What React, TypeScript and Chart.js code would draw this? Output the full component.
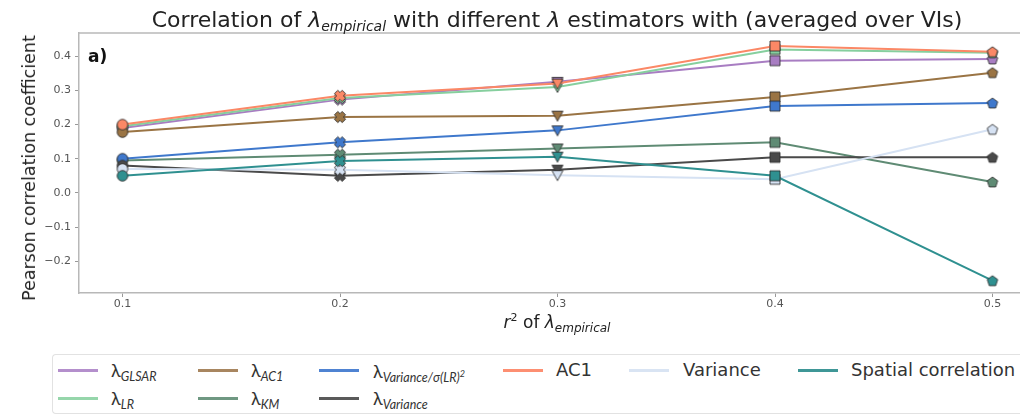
import React, { useEffect, useRef } from "react";
import { Chart, registerables } from "chart.js";

Chart.register(...registerables);

const xValues = [0.1, 0.2, 0.3, 0.4, 0.5];
const yTicks = [-0.2, -0.1, 0.0, 0.1, 0.2, 0.3, 0.4];

const lamGLSAR = [0.19, 0.273, 0.325, 0.387, 0.392];
const lamLR = [0.195, 0.278, 0.31, 0.42, 0.41];
const lamAC1 = [0.178, 0.222, 0.226, 0.281, 0.352];
const lamKM = [0.095, 0.112, 0.13, 0.148, 0.032];
const lamVarSigma = [0.1, 0.148, 0.183, 0.254, 0.263];
const lamVariance = [0.08, 0.05, 0.068, 0.104, 0.104];
const ac1 = [0.2, 0.284, 0.32, 0.43, 0.413];
const variance = [0.07, 0.068, 0.052, 0.04, 0.186];
const spatial = [0.05, 0.093, 0.106, 0.05, -0.257];

const markerShapes = ["circle", "x", "tridown", "square", "pentagon"];

// plotting order (later drawn on top)
const series = [
  { key: "glsar", values: lamGLSAR, color: "#a87dc2" },
  { key: "lr", values: lamLR, color: "#86cf9e" },
  { key: "ac1l", values: lamAC1, color: "#9a7444" },
  { key: "km", values: lamKM, color: "#5f8b74" },
  { key: "varsig", values: lamVarSigma, color: "#3f78cc" },
  { key: "varl", values: lamVariance, color: "#4a4a4a" },
  { key: "ac1", values: ac1, color: "#fb8866" },
  { key: "variance", values: variance, color: "#d6e2f3" },
  { key: "spatial", values: spatial, color: "#2f9090" },
];

function makeMarker(shape: string, fill: string): HTMLCanvasElement {
  const c = document.createElement("canvas");
  const S = 14;
  c.width = S;
  c.height = S;
  const ctx = c.getContext("2d")!;
  const cx = S / 2;
  const cy = S / 2;
  ctx.fillStyle = fill;
  ctx.strokeStyle = "rgba(45,45,45,0.85)";
  ctx.lineWidth = 1;
  ctx.beginPath();
  if (shape === "circle") {
    ctx.arc(cx, cy, 5.3, 0, Math.PI * 2);
  } else if (shape === "square") {
    ctx.rect(cx - 5, cy - 5, 10, 10);
  } else if (shape === "tridown") {
    ctx.moveTo(cx - 5.5, cy - 4.5);
    ctx.lineTo(cx + 5.5, cy - 4.5);
    ctx.lineTo(cx, cy + 5.5);
    ctx.closePath();
  } else if (shape === "pentagon") {
    for (let k = 0; k < 5; k++) {
      const a = -Math.PI / 2 + (k * 2 * Math.PI) / 5;
      const px = cx + 5.5 * Math.cos(a);
      const py = cy + 0.5 + 5.5 * Math.sin(a);
      if (k === 0) ctx.moveTo(px, py);
      else ctx.lineTo(px, py);
    }
    ctx.closePath();
  } else if (shape === "x") {
    const w = 2.4;
    const L = 5.5;
    const pts: [number, number][] = [
      [-w, -L], [w, -L], [w, -w], [L, -w], [L, w], [w, w],
      [w, L], [-w, L], [-w, w], [-L, w], [-L, -w], [-w, -w],
    ];
    const ca = Math.cos(Math.PI / 4);
    const sa = Math.sin(Math.PI / 4);
    pts.forEach(([px, py], k) => {
      const rx = cx + px * ca - py * sa;
      const ry = cy + px * sa + py * ca;
      if (k === 0) ctx.moveTo(rx, ry);
      else ctx.lineTo(rx, ry);
    });
    ctx.closePath();
  }
  ctx.fill();
  ctx.stroke();
  return c;
}

const topSpine = {
  id: "topSpine",
  afterDraw(chart: any) {
    const { ctx, chartArea } = chart;
    ctx.save();
    ctx.strokeStyle = "#b8b8b8";
    ctx.lineWidth = 1.5;
    ctx.beginPath();
    ctx.moveTo(chartArea.left, chartArea.top);
    ctx.lineTo(chart.width, chartArea.top);
    ctx.stroke();
    ctx.restore();
  },
};

const fmt = (v: number) => {
  const s = (Math.round(v * 10) / 10).toFixed(1);
  return s.startsWith("-") ? "\u2212" + s.slice(1) : s;
};

const Lam = ({ sub, size = 18, subSize = 12.5 }: { sub: React.ReactNode; size?: number; subSize?: number }) => (
  <span style={{ fontFamily: "Lato, 'Open Sans', sans-serif", fontSize: size, color: "#333" }}>
    λ
    <span style={{ fontStyle: "italic", fontSize: subSize, position: "relative", top: 4 }}>{sub}</span>
  </span>
);

type LegendItem = { lineX: number; textX: number; row: number; color: string; label: React.ReactNode };

const legendItems: LegendItem[] = [
  { lineX: 5, textX: 58, row: 0, color: "#b48fcc", label: <Lam sub="GLSAR" /> },
  { lineX: 5, textX: 58, row: 1, color: "#96d6ab", label: <Lam sub="LR" /> },
  { lineX: 145, textX: 198, row: 0, color: "#a88660", label: <Lam sub="AC1" /> },
  { lineX: 145, textX: 198, row: 1, color: "#6f9882", label: <Lam sub="KM" /> },
  {
    lineX: 266, textX: 320, row: 0, color: "#4f83d2",
    label: <Lam sub={<>Variance/σ(LR)<sup style={{ fontSize: 9 }}>2</sup></>} />,
  },
  { lineX: 266, textX: 320, row: 1, color: "#5a5a5a", label: <Lam sub="Variance" /> },
  { lineX: 450, textX: 503, row: 0, color: "#fd8f72", label: <span>AC1</span> },
  { lineX: 576, textX: 630, row: 0, color: "#d9e4f3", label: <span>Variance</span> },
  { lineX: 745, textX: 798, row: 0, color: "#3f9797", label: <span>Spatial correlation</span> },
];

export default function App() {
  const ref = useRef<HTMLCanvasElement>(null);

  useEffect(() => {
    const N = series.length;
    const chart = new Chart(ref.current!, {
      type: "line",
      data: {
        datasets: series.map((s, i) => ({
          label: s.key,
          data: xValues.map((x, j) => ({ x, y: s.values[j] })),
          borderColor: s.color,
          backgroundColor: s.color,
          borderWidth: 2,
          pointStyle: markerShapes.map((m) => makeMarker(m, s.color)) as any,
          pointRadius: 6,
          pointHoverRadius: 6,
          tension: 0,
          order: N - i,
        })),
      },
      options: {
        responsive: false,
        animation: false,
        events: [],
        layout: { padding: { top: 33, right: 24, left: 0, bottom: 0 } },
        plugins: {
          legend: { display: false },
          title: { display: false },
          tooltip: { enabled: false },
        },
        scales: {
          x: {
            type: "linear",
            min: 0.08,
            max: 0.52,
            afterBuildTicks: (s: any) => {
              s.ticks = xValues.map((v) => ({ value: v }));
            },
            afterFit: (s: any) => {
              s.height = 47;
            },
            grid: { drawOnChartArea: false, drawTicks: true, tickLength: 4, color: "#999" },
            border: { color: "#b8b8b8", width: 1.5 },
            ticks: {
              callback: (v: any) => fmt(Number(v)),
              font: { family: "DejaVu Sans", size: 11 },
              color: "#555",
              padding: 1,
              maxRotation: 0,
              autoSkip: false,
            },
          },
          y: {
            type: "linear",
            min: -0.293,
            max: 0.468,
            afterBuildTicks: (s: any) => {
              s.ticks = yTicks.map((v) => ({ value: v }));
            },
            afterFit: (s: any) => {
              s.width = 79;
            },
            grid: { drawOnChartArea: false, drawTicks: true, tickLength: 4, color: "#999" },
            border: { color: "#b8b8b8", width: 1.5 },
            ticks: {
              callback: (v: any) => fmt(Number(v)),
              font: { family: "DejaVu Sans", size: 11 },
              color: "#555",
              padding: 4,
              autoSkip: false,
            },
          },
        },
      },
      plugins: [topSpine],
    });
    return () => chart.destroy();
  }, []);

  return (
    <div
      style={{
        position: "absolute",
        left: 0,
        top: 0,
        width: 1020,
        height: 414,
        overflow: "hidden",
        background: "#fff",
        fontFamily: "'DejaVu Sans', sans-serif",
        color: "#222",
      }}
    >
      <canvas ref={ref} width={1060} height={340} style={{ position: "absolute", left: 0, top: 0, width: 1060, height: 340 }} />

      {/* Title */}
      <div
        style={{
          position: "absolute",
          left: 0,
          width: 1114,
          top: 7,
          textAlign: "center",
          fontSize: 22,
          lineHeight: "25px",
          whiteSpace: "nowrap",
          color: "#222",
        }}
      >
        Correlation of <span style={{ fontStyle: "italic" }}>λ</span>
        <span style={{ fontStyle: "italic", fontSize: 14, position: "relative", top: 4 }}>empirical</span> with different{" "}
        <span style={{ fontStyle: "italic" }}>λ</span> estimators with (averaged over VIs)
      </div>

      {/* a) */}
      <div style={{ position: "absolute", left: 88, top: 46, fontSize: 17, fontWeight: "bold", lineHeight: "20px", color: "#111" }}>
        a)
      </div>

      {/* Y label */}
      <div
        style={{
          position: "absolute",
          left: 29,
          top: 168,
          transform: "translate(-50%, -50%) rotate(-90deg)",
          fontSize: 17.5,
          whiteSpace: "nowrap",
          lineHeight: "20px",
          color: "#222",
        }}
      >
        Pearson correlation coefficient
      </div>

      {/* X label */}
      <div
        style={{
          position: "absolute",
          left: 0,
          width: 1114,
          top: 311,
          textAlign: "center",
          fontSize: 17,
          lineHeight: "22px",
          whiteSpace: "nowrap",
          color: "#222",
        }}
      >
        <span style={{ fontStyle: "italic" }}>r</span>
        <span style={{ fontSize: 11, position: "relative", top: -7 }}>2</span> of{" "}
        <span style={{ fontStyle: "italic" }}>λ</span>
        <span style={{ fontStyle: "italic", fontSize: 12, position: "relative", top: 4 }}>empirical</span>
      </div>

      {/* Legend */}
      <div
        style={{
          position: "absolute",
          left: 52,
          top: 354,
          width: 1000,
          height: 58,
          borderTop: "1px solid #e2e2e2",
          borderLeft: "1px solid #e2e2e2",
          borderBottom: "1px solid #e2e2e2",
          borderRadius: "4px 0 0 4px",
          background: "#fff",
        }}
      >
        {legendItems.map((it, k) => {
          const cy = it.row === 0 ? 15 : 43;
          return (
            <React.Fragment key={k}>
              <div
                style={{
                  position: "absolute",
                  left: it.lineX,
                  top: cy - 1.5,
                  width: 40,
                  height: 3,
                  background: it.color,
                }}
              />
              <div
                style={{
                  position: "absolute",
                  left: it.textX,
                  top: cy - 12,
                  height: 24,
                  lineHeight: "24px",
                  fontSize: 18,
                  whiteSpace: "nowrap",
                  color: "#333",
                }}
              >
                {it.label}
              </div>
            </React.Fragment>
          );
        })}
      </div>
    </div>
  );
}
